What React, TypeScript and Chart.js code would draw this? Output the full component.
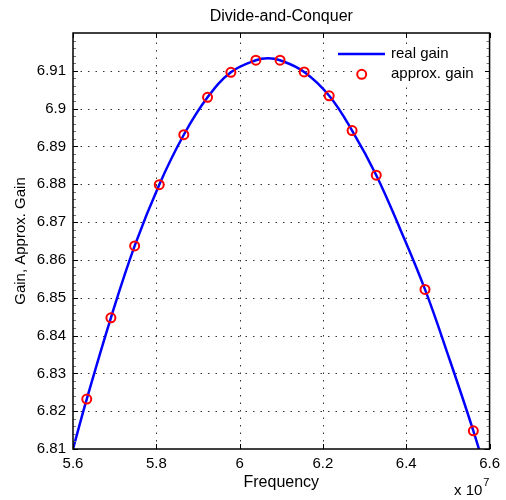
import React, { useEffect, useRef } from "react";
import { Chart, registerables } from "chart.js";

Chart.register(...registerables);

// ---- data (frequency in units of 1e7) ----
const curveFreq = [5.6, 5.633, 5.691, 5.748, 5.807, 5.866, 5.923, 5.979, 6.039, 6.068, 6.097, 6.155, 6.215, 6.27, 6.328, 6.386, 6.445, 6.503, 6.561, 6.6];
const curveGain = [6.81, 6.8232, 6.8447, 6.8637, 6.8799, 6.8931, 6.903, 6.9096, 6.9128, 6.9133, 6.9128, 6.9097, 6.9034, 6.8942, 6.8824, 6.868, 6.8522, 6.834, 6.8148, 6.8005];
const approxFreq = [5.633, 5.691, 5.748, 5.807, 5.866, 5.923, 5.979, 6.039, 6.097, 6.155, 6.215, 6.27, 6.328, 6.445, 6.561];
const approxGain = [6.8232, 6.8447, 6.8637, 6.8799, 6.8931, 6.903, 6.9096, 6.9128, 6.9128, 6.9097, 6.9034, 6.8942, 6.8824, 6.8522, 6.8148];

const xTicks = [5.6, 5.8, 6.0, 6.2, 6.4, 6.6];
const yTicks = [6.81, 6.82, 6.83, 6.84, 6.85, 6.86, 6.87, 6.88, 6.89, 6.9, 6.91];
const xRange = [5.6, 6.6];
const yRange = [6.81, 6.92];

const titleText = "Divide-and-Conquer";
const xLabel = "Frequency";
const yLabel = "Gain, Approx. Gain";
const xExponentBase = "x 10";
const xExponent = "7";
const legendLabels = ["real gain", "approx. gain"];

const FONT = '"Liberation Sans", Arial, Helvetica, sans-serif';
const BLUE = "#0000ff";
const RED = "#ff0000";

const fmt = (v: number) => String(parseFloat(v.toFixed(2)));

const decor = {
  id: "decor",
  beforeDatasetsDraw(chart: any) {
    const { ctx, chartArea: a, scales } = chart;
    const x = scales.x;
    const y = scales.y;
    ctx.save();
    ctx.strokeStyle = "#333";
    ctx.lineWidth = 1;
    ctx.setLineDash([1.5, 6]);
    for (const v of xTicks) {
      const px = Math.round(x.getPixelForValue(v)) + 0.5;
      if (px <= a.left + 2 || px >= a.right - 2) continue;
      ctx.beginPath();
      ctx.moveTo(px, a.bottom);
      ctx.lineTo(px, a.top);
      ctx.stroke();
    }
    for (const v of yTicks) {
      const py = Math.round(y.getPixelForValue(v)) + 0.5;
      if (py <= a.top + 2 || py >= a.bottom - 2) continue;
      ctx.beginPath();
      ctx.moveTo(a.left, py);
      ctx.lineTo(a.right, py);
      ctx.stroke();
    }
    ctx.restore();
  },
  afterDatasetsDraw(chart: any) {
    const { ctx, chartArea: a, scales } = chart;
    const x = scales.x;
    const y = scales.y;
    ctx.save();
    ctx.setLineDash([]);
    // minor y ticks
    ctx.strokeStyle = "#777";
    ctx.lineWidth = 1;
    for (let i = 1; i < 55; i++) {
      const v = yRange[0] + i * 0.002;
      const py = Math.round(y.getPixelForValue(v)) + 0.5;
      ctx.beginPath();
      ctx.moveTo(a.left, py);
      ctx.lineTo(a.left + 3, py);
      ctx.moveTo(a.right, py);
      ctx.lineTo(a.right - 3, py);
      ctx.stroke();
    }
    // major ticks
    ctx.strokeStyle = "#000";
    ctx.lineWidth = 1;
    for (const v of xTicks) {
      const px = Math.round(x.getPixelForValue(v)) + 0.5;
      ctx.beginPath();
      ctx.moveTo(px, a.bottom);
      ctx.lineTo(px, a.bottom - 5);
      ctx.moveTo(px, a.top);
      ctx.lineTo(px, a.top + 5);
      ctx.stroke();
    }
    for (const v of yTicks) {
      const py = Math.round(y.getPixelForValue(v)) + 0.5;
      ctx.beginPath();
      ctx.moveTo(a.left, py);
      ctx.lineTo(a.left + 5, py);
      ctx.moveTo(a.right, py);
      ctx.lineTo(a.right - 5, py);
      ctx.stroke();
    }
    // box
    ctx.lineWidth = 1.5;
    ctx.strokeRect(a.left, a.top, a.right - a.left, a.bottom - a.top);

    // legend
    ctx.fillStyle = "#fff";
    ctx.fillRect(355, 45, 130, 40);
    ctx.strokeStyle = BLUE;
    ctx.lineWidth = 2.5;
    ctx.beginPath();
    ctx.moveTo(338, 54);
    ctx.lineTo(385, 54);
    ctx.stroke();
    ctx.strokeStyle = RED;
    ctx.lineWidth = 2;
    ctx.beginPath();
    ctx.arc(361.7, 74.3, 4.5, 0, Math.PI * 2);
    ctx.stroke();
    ctx.fillStyle = "#000";
    ctx.font = `15px ${FONT}`;
    ctx.textAlign = "left";
    ctx.textBaseline = "middle";
    ctx.fillText(legendLabels[0], 391, 54);
    ctx.fillText(legendLabels[1], 391, 74);

    // titles
    const cx = (a.left + a.right) / 2;
    ctx.textAlign = "center";
    ctx.textBaseline = "alphabetic";
    ctx.font = `16px ${FONT}`;
    ctx.fillText(titleText, cx, 21);
    ctx.font = `16px ${FONT}`;
    ctx.fillText(xLabel, cx, 487);
    ctx.font = `15px ${FONT}`;
    ctx.save();
    ctx.translate(25, (a.top + a.bottom) / 2);
    ctx.rotate(-Math.PI / 2);
    ctx.fillText(yLabel, 0, 0);
    ctx.restore();
    ctx.textAlign = "left";
    ctx.font = `15px ${FONT}`;
    ctx.fillText(xExponentBase, 454, 495);
    const w = ctx.measureText(xExponentBase).width;
    ctx.font = `11px ${FONT}`;
    ctx.fillText(xExponent, 454 + w + 1, 486);
    ctx.restore();
  },
};

export default function App() {
  const ref = useRef<HTMLCanvasElement | null>(null);
  useEffect(() => {
    document.body.style.margin = "0";
    const canvas = ref.current!;
    const chart = new Chart(canvas, {
      type: "scatter",
      data: {
        datasets: [
          {
            label: legendLabels[0],
            data: curveFreq.map((f, i) => ({ x: f, y: curveGain[i] })),
            showLine: true,
            borderColor: BLUE,
            borderWidth: 2.5,
            pointRadius: 0,
            tension: 0.4,
            order: 2,
          },
          {
            label: legendLabels[1],
            data: approxFreq.map((f, i) => ({ x: f, y: approxGain[i] })),
            showLine: false,
            pointStyle: "circle",
            pointRadius: 4.5,
            pointBorderWidth: 2,
            pointBorderColor: RED,
            pointBackgroundColor: "rgba(0,0,0,0)",
            borderColor: RED,
            backgroundColor: "rgba(0,0,0,0)",
            order: 1,
          },
        ],
      },
      options: {
        responsive: false,
        animation: false,
        events: [],
        layout: { padding: { left: 0, top: 33, right: 15, bottom: 0 } },
        plugins: { legend: { display: false }, title: { display: false }, tooltip: { enabled: false } },
        scales: {
          x: {
            type: "linear",
            min: xRange[0],
            max: xRange[1],
            afterBuildTicks: (s: any) => {
              s.ticks = xTicks.map((v) => ({ value: v }));
            },
            afterFit: (s: any) => {
              s.height = 51;
            },
            grid: { display: false, drawTicks: false },
            border: { display: false },
            ticks: {
              padding: 6,
              color: "#000",
              font: { family: FONT, size: 15 },
              maxRotation: 0,
              autoSkip: false,
              callback: (v: any) => fmt(Number(v)),
            },
          },
          y: {
            type: "linear",
            min: yRange[0],
            max: yRange[1],
            afterBuildTicks: (s: any) => {
              s.ticks = yTicks.map((v) => ({ value: v }));
            },
            afterFit: (s: any) => {
              s.width = 73;
            },
            grid: { display: false, drawTicks: false },
            border: { display: false },
            ticks: {
              padding: 7,
              color: "#000",
              font: { family: FONT, size: 15 },
              autoSkip: false,
              callback: (v: any) => fmt(Number(v)),
            },
          },
        },
      },
      plugins: [decor],
    });
    return () => chart.destroy();
  }, []);
  return <canvas ref={ref} width={506} height={500} style={{ display: "block" }} />;
}
